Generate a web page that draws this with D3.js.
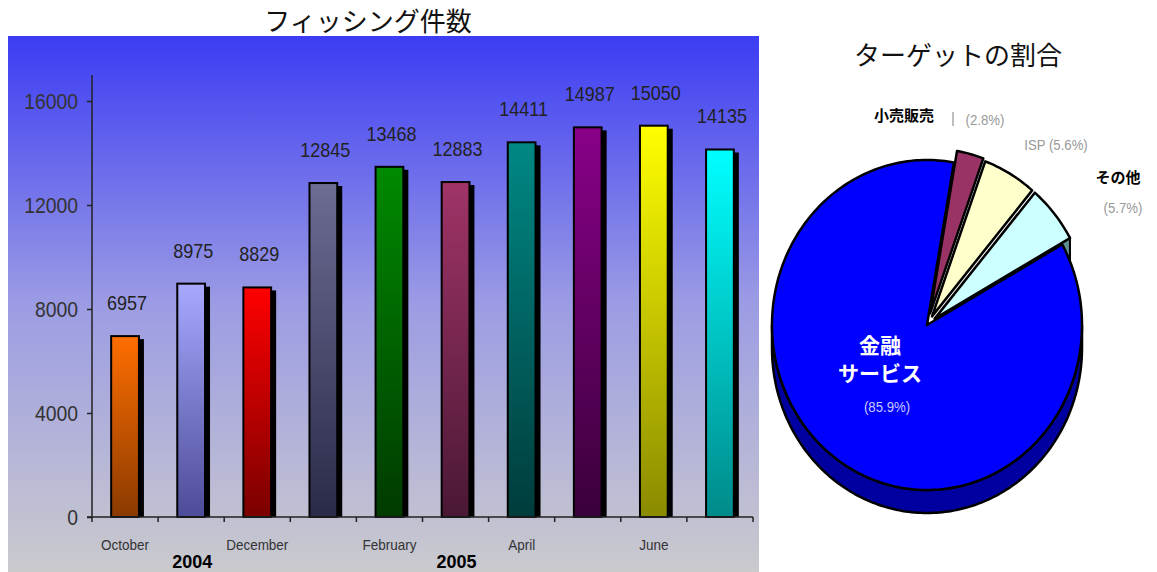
<!DOCTYPE html>
<html>
<head>
<meta charset="utf-8">
<script src="https://cdn.jsdelivr.net/npm/d3@7"></script>
<style>
  body { margin: 0; background: #fff; }
  svg { display: block; }
</style>
</head>
<body>
<svg id="chart"></svg>
<script>
const width = 1157,
    height = 572;

// bar chart data
const months = ["October", "November", "December", "January", "February", "March", "April", "May", "June", "July"];
const counts = [6957, 8975, 8829, 12845, 13468, 12883, 14411, 14987, 15050, 14135];
const monthLabels = ["October", "", "December", "", "February", "", "April", "", "June", ""];
const yTicks = [0, 4000, 8000, 12000, 16000];
const years = [{ label: "2004", at: 1 }, { label: "2005", at: 5 }];
const barTop = ["#ff6e00", "#a8a8ff", "#ff0000", "#6c6c94", "#008a00", "#a03468", "#008884", "#880088", "#ffff00", "#00ffff"];
const barBottom = ["#8a3a00", "#4c4c98", "#7a0000", "#2a2a48", "#003a00", "#4a1834", "#003c3c", "#3a003a", "#8a8a00", "#008a8a"];

// pie data
const targets = ["小売販売", "ISP", "その他", "金融サービス"];
const shares = [2.8, 5.6, 5.7, 85.9];
const pieTop = ["#993366", "#ffffcc", "#ccffff", "#0000ff"];
const pieSide = ["#5a1c3a", "#9a9a70", "#5f8f8f", "#0000a0"];

const svg = d3.select("svg#chart")
    .attr("width", width)
    .attr("height", height)
    .style("font-family", "Arial, 'Liberation Sans', sans-serif");
const defs = svg.append("defs");

// ---------- left panel ----------
const bg = defs.append("linearGradient").attr("id", "bg-grad")
    .attr("x1", 0).attr("y1", 0).attr("x2", 0).attr("y2", 1);
bg.append("stop").attr("offset", 0).attr("stop-color", "#3c3cf4");
bg.append("stop").attr("offset", 0.5).attr("stop-color", "#9c9ce4");
bg.append("stop").attr("offset", 1).attr("stop-color", "#cacace");

svg.append("rect")
    .attr("x", 8).attr("y", 36)
    .attr("width", 751).attr("height", height - 36)
    .attr("fill", "url(#bg-grad)");

svg.append("text")
    .attr("x", 368).attr("y", 31)
    .attr("text-anchor", "middle")
    .style("font-family", "'Noto Sans CJK JP'")
    .style("font-size", "26px")
    .attr("fill", "#111")
    .text("フィッシング件数");

const x = d3.scaleBand().domain(months).range([92, 753]).padding(0);
const y = d3.scaleLinear().domain([0, 17000]).range([517, 75]);
const barW = x.bandwidth() * 0.42;

months.forEach((m, i) => {
    const g = defs.append("linearGradient").attr("id", "bar-" + i)
        .attr("x1", 0).attr("y1", 0).attr("x2", 0).attr("y2", 1);
    g.append("stop").attr("offset", 0).attr("stop-color", barTop[i]);
    g.append("stop").attr("offset", 1).attr("stop-color", barBottom[i]);
});

const bars = svg.append("g").selectAll("g")
    .data(months)
    .enter()
    .append("g");

// shadow
bars.append("rect")
    .attr("x", d => x(d) + x.bandwidth() / 2 - barW / 2 + 5)
    .attr("y", (d, i) => y(counts[i]) + 3)
    .attr("width", barW)
    .attr("height", (d, i) => y(0) - y(counts[i]) - 3)
    .attr("fill", "#000");

bars.append("rect")
    .attr("x", d => x(d) + x.bandwidth() / 2 - barW / 2)
    .attr("y", (d, i) => y(counts[i]))
    .attr("width", barW)
    .attr("height", (d, i) => y(0) - y(counts[i]))
    .attr("fill", (d, i) => "url(#bar-" + i + ")")
    .attr("stroke", "#000")
    .attr("stroke-width", 2);

bars.append("text")
    .attr("transform", (d, i) => `translate(${x(d) + x.bandwidth() / 2 + 2},${y(counts[i]) - 26}) scale(0.9,1)`)
    .attr("text-anchor", "middle")
    .style("font-size", "20px")
    .attr("fill", "#222")
    .text((d, i) => counts[i]);

// y axis
const yAxis = svg.append("g")
    .attr("transform", "translate(92,0)")
    .call(d3.axisLeft(y).tickValues(yTicks).tickSize(5).tickPadding(0).tickFormat(d3.format("d")));
yAxis.select(".domain").attr("stroke", "#222").attr("stroke-width", 1.5).attr("d", "M0,75V517");
yAxis.selectAll(".tick line").attr("stroke", "#222").attr("stroke-width", 1.5);
yAxis.selectAll(".tick text")
    .attr("x", 0)
    .attr("transform", "translate(-14,0) scale(0.88,1)")
    .style("font-size", "22px")
    .style("font-family", "Arial, 'Liberation Sans', sans-serif")
    .attr("fill", "#333");

// x axis
const xAxis = svg.append("g")
    .attr("transform", "translate(0,517)")
    .call(d3.axisBottom(x).tickSize(0).tickPadding(0).tickFormat((d, i) => monthLabels[i]));
xAxis.select(".domain").attr("stroke", "#222").attr("stroke-width", 1.5).attr("d", "M87,0H753");
xAxis.selectAll(".tick text")
    .attr("y", 0)
    .attr("dy", null)
    .attr("transform", "translate(0,33) scale(0.9,1)")
    .style("font-size", "15px")
    .style("font-family", "Arial, 'Liberation Sans', sans-serif")
    .attr("fill", "#333");
xAxis.selectAll(".edge")
    .data(months.map(m => x(m)).concat([x.range()[1]]))
    .enter()
    .append("line")
    .attr("x1", d => d).attr("x2", d => d)
    .attr("y1", 0).attr("y2", 5)
    .attr("stroke", "#222")
    .attr("stroke-width", 1.5);

svg.append("g").selectAll("text")
    .data(years)
    .enter()
    .append("text")
    .attr("x", d => x(months[d.at]) + x.bandwidth() / 2 + 1)
    .attr("y", 568)
    .attr("text-anchor", "middle")
    .style("font-size", "18px")
    .style("font-weight", "bold")
    .attr("fill", "#000")
    .text(d => d.label);

// ---------- pie ----------
svg.append("text")
    .attr("x", 958).attr("y", 65)
    .attr("text-anchor", "middle")
    .style("font-family", "'Noto Sans CJK JP'")
    .style("font-size", "26px")
    .attr("fill", "#111")
    .text("ターゲットの割合");

const cx = 927, cy = 325, rx = 155, ry = 165, depth = 23;
const explode = [12, 10, 10, 0];
const pie = d3.pie().sort(null).value(d => d)
    .startAngle(10 * Math.PI / 180)
    .endAngle(10 * Math.PI / 180 + 2 * Math.PI);
const arcs = pie(shares);
arcs.forEach((a, i) => {
    const mid = (a.startAngle + a.endAngle) / 2;
    a.ox = explode[i] * Math.sin(mid);
    a.oy = -explode[i] * Math.cos(mid);
});

const pt = (d, ang, dz) => [cx + d.ox + rx * Math.sin(ang), cy + d.oy - ry * Math.cos(ang) + dz];
const sweep = (d, a0, a1, dz) => {
    const n = Math.max(2, Math.ceil((a1 - a0) / 0.02));
    return d3.range(n + 1).map(k => pt(d, a0 + (a1 - a0) * k / n, dz));
};
const line = d3.line();

const pieG = svg.append("g");

// radial end face of the "other" slice
const other = arcs[2];
pieG.append("path")
    .attr("d", line([
        [cx + other.ox, cy + other.oy],
        pt(other, other.endAngle, 0),
        pt(other, other.endAngle, depth),
        [cx + other.ox, cy + other.oy + depth]
    ]) + "Z")
    .attr("fill", pieSide[2])
    .attr("stroke", "#000")
    .attr("stroke-width", 2);

// outer side walls (front half only)
arcs.forEach((d, i) => {
    const a0 = Math.max(d.startAngle, Math.PI / 2), a1 = Math.min(d.endAngle, Math.PI * 1.5);
    if (a1 <= a0) return;
    const top = sweep(d, a0, a1, 0);
    const bot = sweep(d, a0, a1, depth).reverse();
    pieG.append("path")
        .attr("d", line(top.concat(bot)) + "Z")
        .attr("fill", pieSide[i])
        .attr("stroke", "#000")
        .attr("stroke-width", 2.5);
});

// top faces
pieG.selectAll(".slice")
    .data(arcs)
    .enter()
    .append("path")
    .attr("d", d => line([[cx + d.ox, cy + d.oy]].concat(sweep(d, d.startAngle, d.endAngle, 0))) + "Z")
    .attr("fill", (d, i) => pieTop[i])
    .attr("stroke", "#000")
    .attr("stroke-width", 2.5)
    .attr("stroke-linejoin", "round");

// pie labels
const lab = svg.append("g");
lab.append("text").attr("x", 904).attr("y", 121).attr("text-anchor", "middle")
    .style("font-family", "'Noto Sans CJK JP'").style("font-size", "15px").style("font-weight", "bold")
    .text(targets[0]);
lab.append("line").attr("x1", 953).attr("x2", 953).attr("y1", 112).attr("y2", 126)
    .attr("stroke", "#aaa").attr("stroke-width", 1.5);
lab.append("text").attr("transform", "translate(985,125) scale(0.88,1)").attr("text-anchor", "middle")
    .style("font-size", "15px").attr("fill", "#999")
    .text(`(${shares[0]}%)`);
lab.append("text").attr("transform", "translate(1056,150) scale(0.88,1)").attr("text-anchor", "middle")
    .style("font-size", "15px").attr("fill", "#999")
    .text(`${targets[1]} (${shares[1]}%)`);
lab.append("text").attr("x", 1118).attr("y", 183).attr("text-anchor", "middle")
    .style("font-family", "'Noto Sans CJK JP'").style("font-size", "15px").style("font-weight", "bold")
    .text(targets[2]);
lab.append("text").attr("transform", "translate(1123,213) scale(0.88,1)").attr("text-anchor", "middle")
    .style("font-size", "15px").attr("fill", "#999")
    .text(`(${shares[2]}%)`);
lab.append("text").attr("x", 880).attr("y", 353).attr("text-anchor", "middle")
    .style("font-family", "'Noto Sans CJK JP'").style("font-size", "21px").style("font-weight", "bold")
    .attr("fill", "#fff")
    .text(targets[3].slice(0, 2));
lab.append("text").attr("x", 880).attr("y", 381).attr("text-anchor", "middle")
    .style("font-family", "'Noto Sans CJK JP'").style("font-size", "21px").style("font-weight", "bold")
    .attr("fill", "#fff")
    .text(targets[3].slice(2));
lab.append("text").attr("transform", "translate(887,412) scale(0.88,1)").attr("text-anchor", "middle")
    .style("font-size", "15px").attr("fill", "#c8c8ff")
    .text(`(${shares[3]}%)`);
</script>
</body>
</html>
